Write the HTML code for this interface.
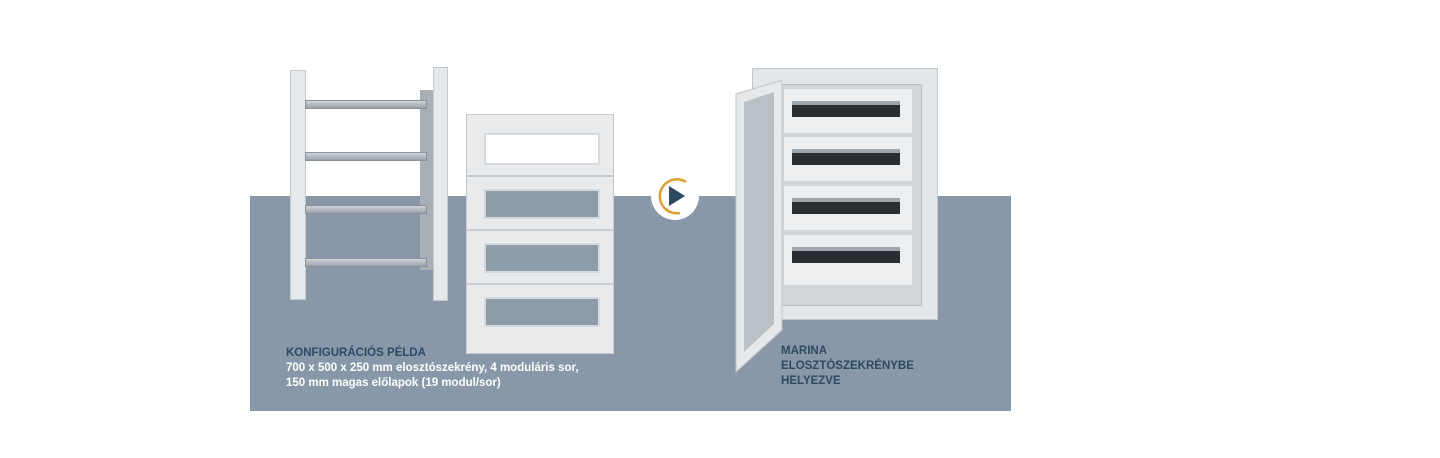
<!DOCTYPE html>
<html><head><style>
body{margin:0;width:1440px;height:458px;background:#fff;position:relative;overflow:hidden;font-family:"Liberation Sans","DejaVu Sans",sans-serif}
div{position:absolute;box-sizing:border-box}
.band{left:250px;top:196px;width:761px;height:215px;background:#8898a8}
.rail{background:#e6e9ec;border:1px solid #c4c9ce}
.din{height:9px;background:linear-gradient(#cfd4d8,#9aa2a9);border:1px solid #8b939a}
.pan{left:466px;width:148px;background:#e8eaec;border:1px solid #c8ccd0}
.win{left:17px;width:116px;border:2px solid #d6dade}
.t{font-weight:bold;font-size:11.5px;line-height:15px;white-space:nowrap}
.cp{left:783px;width:130px;height:46px;background:#eceeef;border:1px solid #cfd3d6}
.slot{left:8px;top:12px;width:108px;height:16px;background:#2a2e33;border-top:4px solid #9ea5ab}
</style></head><body>
<div class="band"></div>
<!-- rack -->
<div style="left:420px;top:90px;width:14px;height:180px;background:#a8b0b6"></div>
<div class="rail" style="left:290px;top:70px;width:16px;height:230px"></div>
<div class="rail" style="left:433px;top:67px;width:15px;height:234px"></div>
<div class="din" style="left:305px;top:100px;width:122px"></div>
<div class="din" style="left:305px;top:152px;width:122px"></div>
<div class="din" style="left:305px;top:205px;width:122px"></div>
<div class="din" style="left:305px;top:258px;width:122px"></div>
<!-- panels -->
<div class="pan" style="top:114px;height:62px"><div class="win" style="top:18px;height:32px;background:#fff"></div></div>
<div class="pan" style="top:176px;height:54px"><div class="win" style="top:12px;height:30px;background:#8c9cab"></div></div>
<div class="pan" style="top:230px;height:54px"><div class="win" style="top:12px;height:30px;background:#8c9cab"></div></div>
<div class="pan" style="top:284px;height:70px"><div class="win" style="top:12px;height:30px;background:#8c9cab"></div></div>
<!-- play -->
<svg style="position:absolute;left:650px;top:171px" width="50" height="50" viewBox="0 0 50 50">
<circle cx="25" cy="25" r="24" fill="#fff"/>
<path d="M36 11 A17 17 0 1 0 30 42" fill="none" stroke="#e0a030" stroke-width="2.5"/>
<path d="M19 15 L35 25 L19 35 Z" fill="#2e4a63"/>
</svg>
<!-- cabinet -->
<div style="left:752px;top:68px;width:186px;height:252px;background:#e4e7e9;border:1px solid #c2c7cb"></div>
<div style="left:778px;top:84px;width:144px;height:222px;background:#d2d6d9;border:1px solid #b6bcc1"></div>
<div class="cp" style="top:88px"><div class="slot"></div></div>
<div class="cp" style="top:136px"><div class="slot"></div></div>
<div class="cp" style="top:185px"><div class="slot"></div></div>
<div class="cp" style="top:234px;height:52px"><div class="slot"></div></div>
<svg style="position:absolute;left:734px;top:80px" width="50" height="300">
<polygon points="2,14 48,0 48,250 2,292" fill="#e6e8ea" stroke="#bfc4c8"/>
<polygon points="10,22 40,12 40,244 10,272" fill="#b9c0c6"/>
</svg>
<!-- text -->
<div class="t" style="left:286px;top:346px;color:#2d4a63">KONFIGURÁCIÓS PÉLDA</div>
<div class="t" style="left:286px;top:361px;color:#fff">700 x 500 x 250 mm elosztószekrény, 4 moduláris sor,</div>
<div class="t" style="left:286px;top:376px;color:#fff">150 mm magas előlapok (19 modul/sor)</div>
<div class="t" style="left:781px;top:344px;color:#2d4a63">MARINA<br>ELOSZTÓSZEKRÉNYBE<br>HELYEZVE</div>
</body></html>
